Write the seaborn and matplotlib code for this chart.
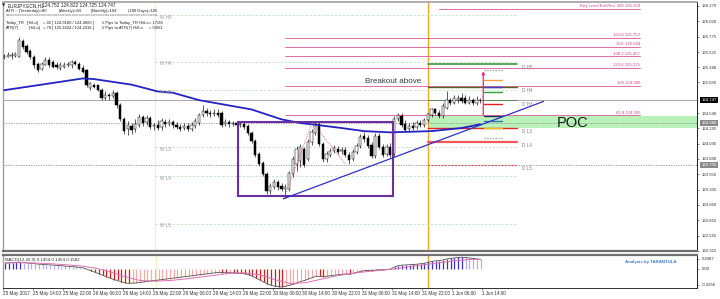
import matplotlib
matplotlib.use("Agg")
import matplotlib.pyplot as plt
import matplotlib.transforms as mtransforms
from matplotlib.patches import Rectangle
import numpy as np
import seaborn as sns

sns.set_theme(style="white")
plt.rcParams['font.family'] = ['Liberation Sans', 'DejaVu Sans']

# ---------------- data (EURJPY H1) ----------------
bar_open = [125.45, 125.45, 125.47, 125.47, 125.45, 125.71, 125.63, 125.55, 125.45, 125.34,
            125.26, 125.32, 125.40, 125.36, 125.32, 125.27, 125.29, 125.32, 125.31, 125.36,
            125.34, 125.27, 125.24, 124.95, 124.99, 124.99, 124.92, 124.79, 124.84, 124.81,
            124.86, 124.67, 124.44, 124.28, 124.33, 124.28, 124.35, 124.47, 124.39, 124.46,
            124.33, 124.35, 124.31, 124.39, 124.36, 124.39, 124.35, 124.31, 124.30, 124.33,
            124.28, 124.33, 124.38, 124.51, 124.57, 124.55, 124.52, 124.55, 124.54, 124.36,
            124.39, 124.36, 124.38, 124.35, 124.36, 124.33, 124.22, 124.09, 123.88, 123.74,
            123.56, 123.29, 123.35, 123.43, 123.37, 123.32, 123.32, 123.56, 123.72, 123.77,
            123.96, 123.80, 124.07, 124.22, 124.36, 124.04, 123.80, 123.86, 123.93, 123.96,
            123.93, 123.94, 123.86, 123.80, 123.91, 124.01, 124.17, 124.14, 124.02, 123.85,
            124.17, 123.99, 123.88, 123.99, 123.88, 124.44, 124.49, 124.36, 124.28, 124.33,
            124.31, 124.38, 124.35, 124.43, 124.51, 124.60, 124.55, 124.49, 124.63, 124.75,
            124.71, 124.76, 124.78, 124.79, 124.71, 124.76, 124.70, 124.76]
bar_high = [125.50, 125.52, 125.52, 125.53, 125.77, 125.74, 125.66, 125.58, 125.48, 125.37,
            125.37, 125.45, 125.44, 125.39, 125.36, 125.36, 125.37, 125.37, 125.39, 125.40,
            125.37, 125.31, 125.26, 125.05, 125.02, 125.00, 124.94, 124.89, 124.87, 124.91,
            124.89, 124.70, 124.47, 124.41, 124.38, 124.44, 124.52, 124.51, 124.51, 124.49,
            124.38, 124.43, 124.46, 124.44, 124.44, 124.43, 124.39, 124.36, 124.38, 124.38,
            124.39, 124.46, 124.55, 124.67, 124.63, 124.59, 124.60, 124.60, 124.57, 124.44,
            124.43, 124.41, 124.41, 124.39, 124.39, 124.36, 124.25, 124.12, 123.91, 123.77,
            123.59, 123.42, 123.48, 123.46, 123.42, 123.40, 123.61, 123.85, 124.01, 124.04,
            123.99, 124.12, 124.28, 124.41, 124.39, 124.07, 123.93, 123.98, 124.02, 124.01,
            123.99, 123.99, 123.91, 123.96, 124.06, 124.20, 124.23, 124.19, 124.07, 124.22,
            124.22, 124.04, 124.04, 124.06, 124.49, 124.55, 124.54, 124.43, 124.38, 124.39,
            124.43, 124.43, 124.46, 124.55, 124.63, 124.63, 124.59, 124.70, 124.89, 124.78,
            124.83, 124.84, 124.87, 124.84, 124.81, 124.79, 124.81, 124.79]
bar_low = [125.42, 125.44, 125.42, 125.44, 125.44, 125.58, 125.50, 125.42, 125.27, 125.20,
           125.23, 125.31, 125.29, 125.27, 125.26, 125.24, 125.27, 125.29, 125.27, 125.31,
           125.23, 125.18, 124.97, 124.92, 124.94, 124.89, 124.76, 124.76, 124.75, 124.78,
           124.63, 124.41, 124.20, 124.19, 124.20, 124.23, 124.31, 124.33, 124.35, 124.28,
           124.27, 124.27, 124.27, 124.31, 124.33, 124.30, 124.28, 124.25, 124.27, 124.25,
           124.25, 124.30, 124.35, 124.47, 124.49, 124.47, 124.49, 124.47, 124.31, 124.33,
           124.31, 124.33, 124.31, 124.31, 124.28, 124.19, 124.06, 123.83, 123.69, 123.53,
           123.24, 123.24, 123.32, 123.30, 123.29, 123.17, 123.29, 123.51, 123.61, 123.67,
           123.67, 123.77, 124.02, 124.19, 124.01, 123.75, 123.75, 123.83, 123.90, 123.88,
           123.88, 123.83, 123.72, 123.77, 123.88, 123.98, 124.07, 123.98, 123.82, 123.82,
           123.96, 123.83, 123.85, 123.83, 123.85, 124.41, 124.31, 124.23, 124.23, 124.27,
           124.28, 124.31, 124.31, 124.39, 124.47, 124.51, 124.46, 124.46, 124.60, 124.67,
           124.68, 124.71, 124.70, 124.68, 124.68, 124.67, 124.67, 124.71]
bar_close = [125.47, 125.48, 125.48, 125.50, 125.72, 125.61, 125.53, 125.45, 125.31, 125.23,
             125.34, 125.40, 125.32, 125.29, 125.29, 125.32, 125.32, 125.34, 125.36, 125.34,
             125.26, 125.21, 125.00, 125.02, 124.97, 124.92, 124.79, 124.84, 124.81, 124.86,
             124.67, 124.44, 124.25, 124.35, 124.27, 124.36, 124.47, 124.38, 124.46, 124.31,
             124.35, 124.30, 124.41, 124.36, 124.39, 124.35, 124.31, 124.28, 124.33, 124.28,
             124.35, 124.41, 124.51, 124.57, 124.54, 124.52, 124.55, 124.51, 124.35, 124.39,
             124.36, 124.38, 124.35, 124.36, 124.31, 124.22, 124.09, 123.86, 123.72, 123.56,
             123.29, 123.37, 123.43, 123.35, 123.32, 123.35, 123.58, 123.80, 123.96, 123.99,
             123.70, 124.07, 124.23, 124.36, 124.04, 123.80, 123.88, 123.93, 123.98, 123.91,
             123.94, 123.86, 123.78, 123.91, 124.01, 124.15, 124.12, 124.01, 123.85, 124.17,
             123.99, 123.86, 123.99, 123.86, 124.44, 124.51, 124.35, 124.27, 124.33, 124.30,
             124.38, 124.35, 124.43, 124.52, 124.60, 124.54, 124.49, 124.65, 124.76, 124.70,
             124.78, 124.79, 124.73, 124.71, 124.76, 124.70, 124.76, 124.75]

ma_bars = [0, 10, 21, 24, 34, 41, 45, 52, 66, 74, 79, 82, 90, 96, 103, 114, 122, 127]
ma_values = [124.91, 125.00, 125.10, 125.09, 125.00, 124.89, 124.87, 124.75, 124.60,
             124.44, 124.38, 124.36, 124.30, 124.25, 124.23, 124.25, 124.30, 124.36]

macd_hist = [0.12, 0.13, 0.13, 0.14, 0.14, 0.135, 0.125,
             0.115, 0.11, 0.10, 0.095, 0.09, 0.085, 0.08, 0.075, 0.07, 0.06, 0.055, 0.05, 0.04, 0.03, 0.02,
             -0.01, -0.04, -0.07, -0.10, -0.13, -0.16, -0.19, -0.22, -0.24, -0.27, -0.29, -0.30,
             -0.295, -0.29, -0.28, -0.27, -0.26, -0.25, -0.24, -0.23, -0.22, -0.21, -0.20, -0.19,
             -0.18, -0.17, -0.16, -0.15, -0.14, -0.13, -0.12, -0.11, -0.10, -0.09, -0.08, -0.07,
             -0.075, -0.08, -0.078, -0.082, -0.085, -0.09,
             -0.10, -0.12, -0.15, -0.19, -0.23, -0.27, -0.31, -0.34, -0.36, -0.37, -0.375,
             -0.36, -0.34, -0.32, -0.29, -0.26, -0.24, -0.21, -0.18,
             -0.15, -0.155, -0.16, -0.15, -0.14, -0.13, -0.12, -0.11, -0.105, -0.11, -0.09, -0.07,
             -0.05, -0.035, -0.03, -0.035, -0.02, -0.015, -0.02, -0.01, 0.0, 0.04, 0.07, 0.08,
             0.085, 0.09, 0.095, 0.10, 0.11, 0.12, 0.14, 0.16, 0.17, 0.175, 0.19, 0.21, 0.22,
             0.23, 0.24, 0.245, 0.24, 0.23, 0.22, 0.21, 0.20]
signal_bars = [0, 4, 8, 12, 16, 20, 24, 28, 32, 36, 40, 44, 48, 52, 56, 60, 64, 68, 72, 76,
               80, 84, 88, 92, 96, 100, 104, 108, 112, 116, 120, 124, 127]
signal_values = [0.13, 0.13, 0.125, 0.11, 0.09, 0.065, 0.02, -0.06, -0.16, -0.24, -0.255,
                 -0.24, -0.21, -0.17, -0.13, -0.09, -0.08, -0.12, -0.22, -0.30, -0.29, -0.22,
                 -0.15, -0.10, -0.06, -0.03, 0.00, 0.05, 0.09, 0.13, 0.17, 0.20, 0.20]

price_ticks = [126.270, 126.020, 125.775, 125.525, 125.280, 125.035, 124.540,
               124.295, 124.045, 123.800, 123.550, 123.305, 123.060, 122.810, 122.565, 122.315]
macd_ticks = [0.2087, 0.0, -0.3256]
macd_tick_labels = ["0.2087", "0.00", "-0.3256"]
time_label_bars = [0, 8, 16, 24, 32, 40, 48, 56, 64, 72, 80, 88, 96, 104, 112, 120, 128]
time_labels = ["25 May 2017", "25 May 14:00", "25 May 22:00", "26 May 06:00", "26 May 14:00",
               "26 May 22:00", "29 May 06:00", "29 May 14:00", "29 May 22:00", "30 May 06:00",
               "30 May 14:00", "30 May 22:00", "31 May 06:00", "31 May 14:00", "31 May 22:00",
               "1 Jun 06:00", "1 Jun 14:00"]

fib_labels = ["Key Level Ent Rev. 200 126.229", "161.8 125.752", "150. 125.604",
              "138.2 125.457", "123.6 125.275", "100 124.980", "61.8 124.503"]
fib_levels = [126.229, 125.752, 125.604, 125.457, 125.275, 124.980, 124.503]

weekly_names = ["W H5", "W H4", "W H3", "W L3", "W L4", "W L5"]
weekly_levels = [126.125, 125.372, 124.915, 123.992, 123.527, 122.757]
daily_names = ["D H5", "D H4", "D H3", "D L3", "D L4", "D L5"]
daily_levels = [125.335, 124.959, 124.746, 124.297, 124.077, 123.708]
target_levels = [125.232, 125.072, 124.959, 124.879, 124.682, 124.490, 124.414, 124.297, 124.137]

current_price = 124.747
poc_price = 124.380
poc_band = [124.305, 124.490]
prev_level = 123.705
box_bars = [62.5, 103.6]
box_prices = [123.206, 124.393]
trend_bars = [74.5, 143.9]
trend_prices = [123.158, 124.730]
zigzag_bars = [74.6, 82.2, 91.0]
zigzag_prices = [123.16, 124.39, 123.72]

header_line1 = "EURJPY.ECN,H1"
header_ohlc = "124.752 124.822 124.725 124.747"
macd_label = "MACD(12,26,9) 0.1454 0.1454 0.1582"

# ---------------- figure ----------------
W, H = 720, 299
fig = plt.figure(figsize=(7.2, 2.99), dpi=100)
fig.patch.set_facecolor("white")
ax = fig.add_axes([3 / W, (H - 251) / H, 694 / W, 249 / H])
ax2 = fig.add_axes([3 / W, (H - 288) / H, 694 / W, 33 / H])
XL = (-0.27, 184.8)
for a in (ax, ax2):
    a.set_xlim(*XL)
    a.set_facecolor("white")
ax.set_ylim(122.340, 126.334)
ax2.set_ylim(-0.397, 0.292)

n = len(bar_close)
bars = np.arange(n)
o = np.array(bar_open); c = np.array(bar_close)
hi = np.array(bar_high); lo = np.array(bar_low)

# background band / separators
ax.axhspan(poc_band[0], poc_band[1], xmin=(113 - XL[0]) / (XL[1] - XL[0]), xmax=1,
           color="#b9f2b9", zorder=0.5, lw=0)
for a in (ax, ax2):
    a.axvline(40.3, color="#f2eec8", lw=0.9, zorder=0.6)
    a.axvline(113, color="#f2a628", lw=1.0, zorder=0.7)

# horizontal lines
ax.axhline(current_price, color="#a8a8a8", lw=0.7, zorder=1)
ax.axhline(poc_price, color="#909090", lw=0.6, ls=(0, (1.5, 1.5)), zorder=1)
ax.axhline(prev_level, color="#909090", lw=0.6, ls=(0, (1.5, 1.5)), zorder=1)

for name, lvl in zip(weekly_names, weekly_levels):
    ax.plot([40.3, 136.8], [lvl, lvl], color="#bfe3bf", lw=0.6, ls=(0, (3, 2)), zorder=1)
    ax.text(41.6, lvl - 0.035, name, fontsize=3.3, color="#999999", va="center", ha="left", zorder=6)

for i, (lab, lvl) in enumerate(zip(fib_labels, fib_levels)):
    x0 = 116 if i == 0 else 75
    ax.plot([x0, 169.6], [lvl, lvl], color="#d9559a", lw=0.6, zorder=1.5)
    ax.text(169.6, lvl + 0.012, lab, fontsize=3.1, color="#d0408a", ha="right", va="bottom", zorder=6)

d_colors = ["#2f8f2f", "#4a6a2a", "#5c8a5c", "#e02828", "#f05858", "#e04040"]
d_styles = ["-", "-", "-", "-", "-", (0, (1.5, 1.5))]
d_widths = [1.1, 1.0, 0.7, 1.0, 1.6, 0.8]
for name, lvl, col, ls, lw in zip(daily_names, daily_levels, d_colors, d_styles, d_widths):
    ax.plot([113, 136.8], [lvl, lvl], color=col, lw=lw, ls=ls, zorder=2)
    ax.text(138.1, lvl - 0.06, name, fontsize=3.3, color="#808080", va="center", ha="left", zorder=6)

t_colors = ["#a0a0a0", "#f0a040", "#4040c0", "#30a030", "#e02020", "#203060", "#2a7ab0", "#e8c020", "#a0a0a0"]
t_styles = [(0, (1, 1)), "-", "-", "-", "-", "-", "-", "-", (0, (1, 1))]
for lvl, col, ls in zip(target_levels, t_colors, t_styles):
    ax.plot([127.9, 132.9], [lvl, lvl], color=col, lw=1.0, ls=ls, zorder=2.5)
ax.annotate("", xy=(127.8, 125.26), xytext=(127.8, 124.46),
            arrowprops=dict(arrowstyle="-|>", color="#e8286e", lw=0.9, mutation_scale=4), zorder=5)

# candles
up = c >= o
body_lo = np.minimum(o, c)
body_h = np.maximum(np.abs(c - o), 0.006)
ax.vlines(bars, lo, hi, colors="black", lw=0.45, zorder=3)
ax.bar(bars, body_h, bottom=body_lo, width=0.62,
       color=np.where(up, "white", "black"), edgecolor="black", lw=0.35, zorder=3.2)

# moving average and trend objects
sns.lineplot(x=ma_bars, y=ma_values, ax=ax, color="#2323c4", lw=1.3, zorder=4)
ax.add_patch(Rectangle((box_bars[0], box_prices[0]), box_bars[1] - box_bars[0],
                       box_prices[1] - box_prices[0], fill=False, ec="#6a2fa0", lw=1.5, zorder=4.5))
ax.plot(trend_bars, trend_prices, color="#3030c8", lw=0.9, zorder=4.6)
ax.plot(zigzag_bars, zigzag_prices, color="#e05060", lw=0.6, ls=(0, (1, 1.2)), zorder=4.4)

ax.text(96.3, 125.051, "Breakout above", fontsize=5.8, color="#3a3a3a", ha="left", va="center", zorder=6)
ax.text(151.7, 124.377, "POC", fontsize=10.5, color="#1a1a1a", ha="center", va="center", zorder=6)

# right axis
for a in (ax, ax2):
    a.yaxis.tick_right()
    a.tick_params(axis="y", which="both", right=True, left=False, length=1.5, width=0.4,
                  pad=1.8, labelsize=3.1, labelcolor="#303030", color="#303030")
ax.set_yticks(price_ticks)
ax.set_yticklabels([f"{p:.3f}" for p in price_ticks])
ax.set_xticks([])
ax2.set_yticks(macd_ticks)
ax2.set_yticklabels(macd_tick_labels)

trans = mtransforms.blended_transform_factory(ax.transAxes, ax.transData)
for val, fc in [(current_price, "black"), (poc_price, "#8a8a8a"), (prev_level, "#8a8a8a")]:
    ax.text(1.0065, val, f"{val:.3f}", transform=trans, fontsize=3.1, color="white", ha="left",
            va="center", bbox=dict(boxstyle="square,pad=0.25", fc=fc, ec="none"), clip_on=False, zorder=10)

# MACD panel
hist = np.array(macd_hist)
prev = np.concatenate([[hist[0]], hist[:-1]])
cols = np.where(hist >= 0, np.where(hist >= prev, "#3a2fc0", "#b9abe8"),
                np.where(hist <= prev, "#d41a1a", "#f4a9a9"))
ax2.vlines(bars, 0, hist, colors=cols, lw=0.9, zorder=2)
sns.lineplot(x=bars, y=hist, ax=ax2, color="#555555", lw=0.6, zorder=3)
sns.lineplot(x=signal_bars, y=signal_values, ax=ax2, color="#e070b0", lw=0.7, zorder=3)
ax2.text(0, 0.19, macd_label, fontsize=3.2, color="#303030", ha="left", va="center", zorder=6)
ax2.text(165.6, 0.152, "Analysis by TARANTULA", fontsize=3.2, color="#3f7fd0",
         fontweight="bold", ha="left", va="center", zorder=6)
ax2.set_xticks([b - 0.6 for b in time_label_bars])
ax2.set_xticklabels(time_labels)
ax2.tick_params(axis="x", bottom=True, length=1.5, width=0.4, pad=1.0, labelsize=3.3,
                labelcolor="#303030", color="#303030")
for lab in ax2.get_xticklabels():
    lab.set_horizontalalignment("left")
ax.set_xlabel(""); ax.set_ylabel(""); ax2.set_xlabel(""); ax2.set_ylabel("")

# spines
for a in (ax, ax2):
    for s in a.spines.values():
        s.set_visible(True)
    a.spines["right"].set_color("#202020"); a.spines["right"].set_linewidth(0.7)
    a.spines["left"].set_color("#a0a0a0"); a.spines["left"].set_linewidth(1.0)
ax.spines["top"].set_color("#a0a0a0"); ax.spines["top"].set_linewidth(1.2)
ax.spines["bottom"].set_color("#707070"); ax.spines["bottom"].set_linewidth(1.6)
ax2.spines["top"].set_color("#707070"); ax2.spines["top"].set_linewidth(1.6)
ax2.spines["bottom"].set_color("#303030"); ax2.spines["bottom"].set_linewidth(0.7)

# header text (pixel positions)
def ft(x, y, s, size=3.0, **kw):
    fig.text(x / W, 1 - y / H, s, fontsize=size, color="#202020", ha="left", va="center", **kw)

ft(2, 5.7, "\u25bc", size=3.0, family=["DejaVu Sans"])
ft(8, 5.7, header_line1, size=3.45)
ft(42, 5.7, header_ohlc, size=3.45)
ft(6, 11, "ATR :: (Yesterday)=80")
ft(59, 11, "(Weekly)=84")
ft(91, 11, "(Monthly)=104")
ft(128, 11, "(180 Days)=105")
ft(6, 15.7, "=" * 64)
ft(6, 22.7, "Today_TR")
ft(27, 22.7, "[Hi/Lo]")
ft(43, 22.7, "= 45 [ 124.9180 / 124.4660 ]")
ft(102, 22.7, "// Pips to Today_TR Hi/Lo")
ft(149, 22.7, "= 17/28")
ft(6, 27.7, "ATR(7)")
ft(29, 27.7, "[Hi/Lo]")
ft(43, 27.7, "= 78 [ 125.2424 / 124.2416 ]")
ft(102, 27.7, "// Pips to ATR(7) Hi/Lo")
ft(149, 27.7, "= 50/61")

fig.savefig("out.png", dpi=100, facecolor="white")
